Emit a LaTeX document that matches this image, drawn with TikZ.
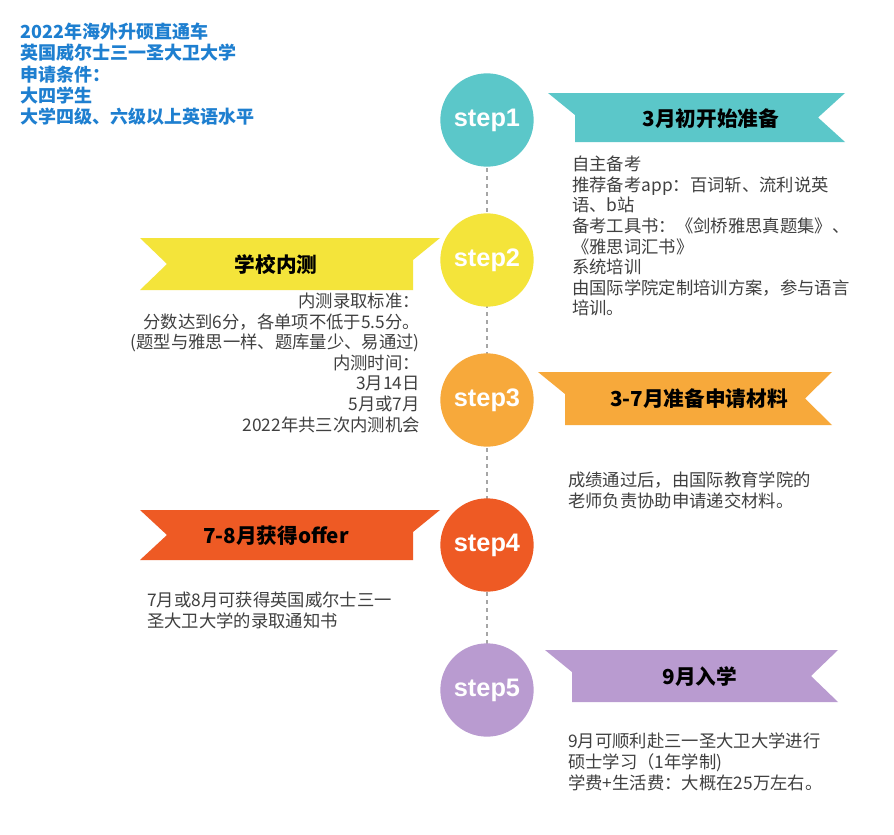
\documentclass[tikz,border=0pt]{standalone}
\usepackage{fontspec}
\setmainfont{Noto Sans CJK SC}
\newfontfamily\stepfont{Liberation Sans}
\usetikzlibrary{positioning}
\definecolor{cteal}{HTML}{5BC7C9}
\definecolor{cyellow}{HTML}{F4E43A}
\definecolor{corange}{HTML}{F7A93B}
\definecolor{cred}{HTML}{EE5A24}
\definecolor{cpurple}{HTML}{B99BD0}
\definecolor{headblue}{HTML}{1E7FD0}
\definecolor{bodygray}{HTML}{404040}
\tikzset{
  stepdot/.style={circle, minimum size=70pt, inner sep=0pt, text=white,
    font=\stepfont\bfseries\fontsize{19}{19}\selectfont},
  bodytext/.style={inner sep=0pt, text=bodygray, font=\fontsize{13}{15.4}\selectfont},
  ribbontext/.style={inner sep=0pt, font=\bfseries\fontsize{15.5}{15.5}\selectfont}
}
\newcommand{\rightribbon}[5]{% color, x0, y0, x1, y1
  \fill[#1] (#2,#3) -- (#4,#3) -- (#4-27,#3/2+#5/2) -- (#4,#5) -- (#2+27,#5) -- (#2+27,#3+22) -- cycle;}
\newcommand{\leftribbon}[5]{%
  \fill[#1] (#4,#3) -- (#2,#3) -- (#2+27,#3/2+#5/2) -- (#2,#5) -- (#4-27,#5) -- (#4-27,#3+22) -- cycle;}
\begin{document}
\begin{tikzpicture}[x=0.75pt,y=-0.75pt]
\useasboundingbox (0,0) rectangle (894,835);
\fill[white] (0,0) rectangle (894,835);
% headline
\node[anchor=north west, inner sep=0pt, align=left, text=headblue,
  font=\bfseries\fontsize{13.5}{15.8}\selectfont] (head) at (20,23)
  {2022年海外升硕直通车\\英国威尔士三一圣大卫大学\\申请条件：\\大四学生\\大学四级、六级以上英语水平};
% timeline
\draw[gray!70, dashed, thick] (487,120) -- (487,690);
\node[stepdot, fill=cteal] (s1) at (487,120) {step1};
\node[stepdot, fill=cyellow] (s2) at (487,260) {step2};
\node[stepdot, fill=corange] (s3) at (487,400) {step3};
\node[stepdot, fill=cred] (s4) at (487,545) {step4};
\node[stepdot, fill=cpurple] (s5) at (487,690) {step5};
% ribbons
\rightribbon{cteal}{548}{93}{845}{142}
\leftribbon{cyellow}{140}{238}{440}{290}
\rightribbon{corange}{538}{372}{832}{425}
\leftribbon{cred}{140}{510}{440}{560}
\rightribbon{cpurple}{545}{650}{838}{702}
\node[ribbontext] (r1) at (711,119) {3月初开始准备};
\node[ribbontext] (r2) at (276,265) {学校内测};
\node[ribbontext] (r3) at (699,399) {3-7月准备申请材料};
\node[ribbontext] (r4) at (276,536) {7-8月获得offer};
\node[ribbontext] (r5) at (700,677) {9月入学};
% texts
\node[bodytext, anchor=north west, align=left] (t1) at (572,156)
  {自主备考\\推荐备考app：百词斩、流利说英\\语、b站\\备考工具书：《剑桥雅思真题集》、\\《雅思词汇书》\\系统培训\\由国际学院定制培训方案，参与语言\\培训。};
\node[bodytext, anchor=north east, align=right] (t2) at (420,293)
  {内测录取标准：\\分数达到6分，各单项不低于5.5分。\\(题型与雅思一样、题库量少、易通过)\\内测时间：\\3月14日\\5月或7月\\2022年共三次内测机会};
\node[bodytext, anchor=north west, align=left] (t3) at (568,472)
  {成绩通过后，由国际教育学院的\\老师负责协助申请递交材料。};
\node[bodytext, anchor=north west, align=left] (t4) at (147,592)
  {7月或8月可获得英国威尔士三一\\圣大卫大学的录取通知书};
\node[bodytext, anchor=north west, align=left] (t5) at (568,733)
  {9月可顺利赴三一圣大卫大学进行\\硕士学习（1年学制)\\学费+生活费：大概在25万左右。};
\end{tikzpicture}
\end{document}
